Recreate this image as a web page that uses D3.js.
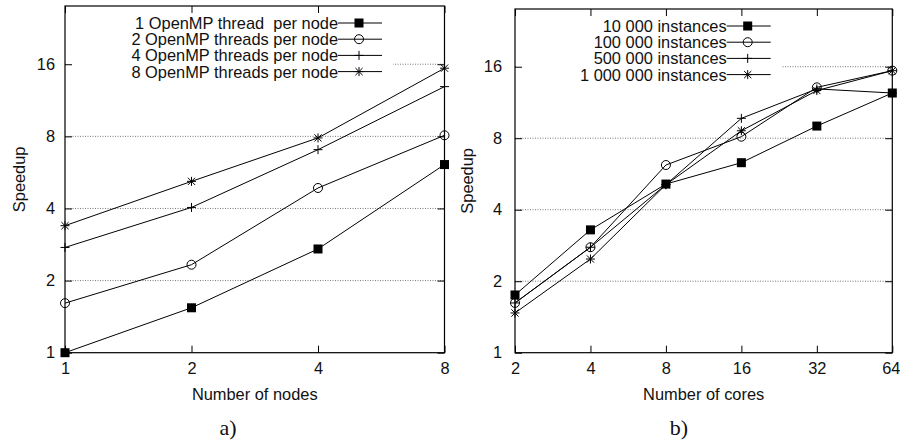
<!DOCTYPE html>
<html>
<head>
<meta charset="utf-8">
<script src="https://cdn.jsdelivr.net/npm/d3@7"></script>
<style>
    body { margin: 0; background: #fff; }
    svg text { font-family: "Liberation Sans", Arial, sans-serif; fill: #111; white-space: pre; }
</style>
</head>
<body>
<div id="chart-container"></div>
<script>
// ---- data ----
const nodes = [1, 2, 4, 8];
const nodeSeriesNames = ["1 OpenMP thread  per node", "2 OpenMP threads per node",
    "4 OpenMP threads per node", "8 OpenMP threads per node"];
const nodes_1thread = [1.0, 1.54, 2.71, 6.1];
const nodes_2threads = [1.61, 2.33, 4.87, 8.08];
const nodes_4threads = [2.75, 4.04, 7.04, 12.9];
const nodes_8threads = [3.39, 5.19, 7.88, 15.4];

const cores = [2, 4, 8, 16, 32, 64];
const coreSeriesNames = ["10 000 instances", "100 000 instances", "500 000 instances", "1 000 000 instances"];
const cores_10k = [1.75, 3.29, 5.13, 6.31, 9.0, 12.4];
const cores_100k = [1.62, 2.78, 6.17, 8.12, 13.1, 15.4];
const cores_500k = [1.62, 2.78, 5.1, 9.7, 12.9, 12.4];
const cores_1m = [1.47, 2.48, 5.1, 8.6, 12.7, 15.4];

const yTicks = [1, 2, 4, 8, 16];
const yMax = 28;
const markerTypes = ["square", "circle", "plus", "star"];

const width = 900, height = 443;
const fontSize = "16.4px";

let svg = d3.select("#chart-container")
    .append("svg")
    .attr("width", width)
    .attr("height", height);

function drawMarker(g, type, x, y) {
    const s = 4.5;
    if (type === "square") {
        g.append("rect")
            .attr("x", x - s).attr("y", y - s)
            .attr("width", 2 * s).attr("height", 2 * s)
            .attr("fill", "#000");
    } else if (type === "circle") {
        g.append("circle")
            .attr("cx", x).attr("cy", y).attr("r", s)
            .attr("fill", "none").attr("stroke", "#000").attr("stroke-width", 1);
    } else {
        let d = `M${x - s},${y}H${x + s}M${x},${y - s}V${y + s}`;
        if (type === "star") {
            const t = 3.6;
            d += `M${x - t},${y - t}L${x + t},${y + t}M${x - t},${y + t}L${x + t},${y - t}`;
        }
        g.append("path").attr("d", d).attr("stroke", "#000").attr("stroke-width", 1);
    }
}

// one gnuplot-like panel with log2 axes
function makePanel(opts) {
    const g = svg.append("g");
    const xScale = d3.scaleLog().base(2).domain(opts.xDomain).range([opts.left, opts.right]);
    const yScale = d3.scaleLog().base(2).domain([1, yMax]).range([opts.bottom, opts.top]);

    // dotted grid
    g.selectAll(".grid")
        .data(yTicks.slice(1))
        .enter().append("line")
        .attr("x1", opts.left).attr("x2", opts.right)
        .attr("y1", d => yScale(d)).attr("y2", d => yScale(d))
        .attr("stroke", "#777")
        .attr("stroke-width", 1)
        .attr("stroke-dasharray", "1,1.5");

    // opaque key box hides the grid behind it
    g.append("rect")
        .attr("x", opts.left + 1)
        .attr("y", opts.top + 1)
        .attr("width", opts.keyEnd + 54 - opts.left)
        .attr("height", 78)
        .attr("fill", "#fff");

    // axes, ticks pointing inward
    let yAxis = d3.axisLeft(yScale).tickValues(yTicks).tickFormat(d3.format("d"))
        .tickSizeInner(-7).tickSizeOuter(0).tickPadding(opts.yPad);
    let xAxis = d3.axisBottom(xScale).tickValues(opts.xTicks).tickFormat(d3.format("d"))
        .tickSizeInner(-7).tickSizeOuter(0).tickPadding(10);
    let yMirror = d3.axisRight(yScale).tickValues(yTicks).tickFormat("")
        .tickSizeInner(-7).tickSizeOuter(0);
    let xMirror = d3.axisTop(xScale).tickValues(opts.xTicks).tickFormat("")
        .tickSizeInner(-7).tickSizeOuter(0);

    [[yAxis, `translate(${opts.left},0)`], [xAxis, `translate(0,${opts.bottom})`],
     [yMirror, `translate(${opts.right},0)`], [xMirror, `translate(0,${opts.top})`]]
        .forEach(([ax, tr]) => {
            const a = g.append("g").attr("transform", tr).call(ax);
            a.select(".domain").remove();
            a.selectAll("line").attr("stroke", "#000");
            a.selectAll("text").style("font-size", fontSize).attr("fill", "#111");
        });

    // keep the last x label inside the page, like the original
    g.selectAll(".tick text")
        .filter(d => d === opts.xDomain[1] && opts.right > 880)
        .attr("dx", "-1.5");

    // frame
    g.append("rect")
        .attr("x", opts.left).attr("y", opts.top)
        .attr("width", opts.right - opts.left).attr("height", opts.bottom - opts.top)
        .attr("fill", "none").attr("stroke", "#000").attr("stroke-width", 1.2);

    // series
    const line = d3.line().x(d => xScale(d[0])).y(d => yScale(d[1]));
    opts.series.forEach((vals, i) => {
        const pts = opts.xValues.map((x, j) => [x, vals[j]]);
        g.append("path")
            .attr("d", line(pts))
            .attr("fill", "none").attr("stroke", "#000").attr("stroke-width", 1);
        pts.forEach(p => drawMarker(g, markerTypes[i], xScale(p[0]), yScale(p[1])));
    });

    // key
    opts.names.forEach((name, i) => {
        const ky = opts.top + 17 + i * 16.2;
        g.append("text")
            .attr("x", opts.keyEnd).attr("y", ky).attr("dy", "0.36em")
            .attr("text-anchor", "end")
            .attr("xml:space", "preserve")
            .style("font-size", fontSize)
            .text(name);
        g.append("line")
            .attr("x1", opts.keyEnd).attr("x2", opts.keyEnd + 44)
            .attr("y1", ky).attr("y2", ky)
            .attr("stroke", "#000").attr("stroke-width", 1);
        drawMarker(g, markerTypes[i], opts.keyEnd + 21, ky);
    });

    // axis labels
    g.append("text")
        .attr("transform", `translate(${opts.left - opts.labelGap},${(opts.top + opts.bottom) / 2}) rotate(-90)`)
        .attr("text-anchor", "middle")
        .style("font-size", fontSize)
        .text("Speedup");
    g.append("text")
        .attr("x", (opts.left + opts.right) / 2)
        .attr("y", 400)
        .attr("text-anchor", "middle")
        .style("font-size", fontSize)
        .text(opts.xLabel);

    // sub caption
    g.append("text")
        .attr("x", opts.captionX)
        .attr("y", 435)
        .attr("text-anchor", "middle")
        .style("font-family", "'Liberation Serif', 'DejaVu Serif', serif")
        .style("font-size", "22px")
        .text(opts.caption);
}

makePanel({
    left: 65, right: 444.5, top: 6, bottom: 352.7,
    xDomain: [1, 8], xTicks: nodes, xValues: nodes,
    series: [nodes_1thread, nodes_2threads, nodes_4threads, nodes_8threads],
    names: nodeSeriesNames, keyEnd: 338, yPad: 10, labelGap: 40,
    xLabel: "Number of nodes", caption: "a)", captionX: 228
});

makePanel({
    left: 515, right: 892.3, top: 9, bottom: 352.7,
    xDomain: [2, 64], xTicks: cores, xValues: cores,
    series: [cores_10k, cores_100k, cores_500k, cores_1m],
    names: coreSeriesNames, keyEnd: 726.7, yPad: 13, labelGap: 42,
    xLabel: "Number of cores", caption: "b)", captionX: 679
});
</script>
</body>
</html>
